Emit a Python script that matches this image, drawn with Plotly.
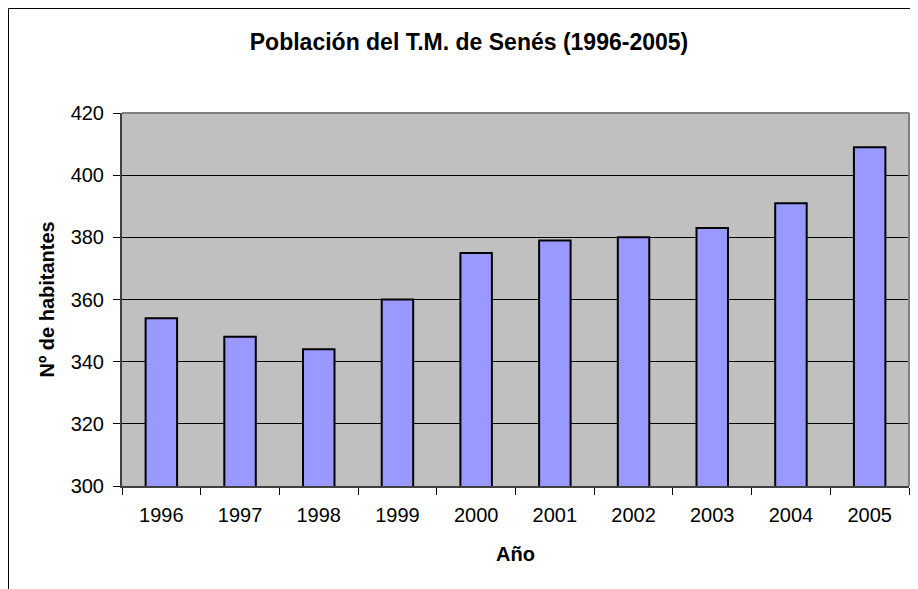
import plotly.graph_objects as go

years = ["1996", "1997", "1998", "1999", "2000", "2001", "2002", "2003", "2004", "2005"]
population = [354, 348, 344, 360, 375, 379, 380, 383, 391, 409]
y_ticks = [300, 320, 340, 360, 380, 400, 420]

# page has an 8px body margin, so the figure is drawn 8px smaller
W, H = 910, 581
L, R, T, B = 114, 9, 105, 103
pw = W - L - R
ph = H - T - B

FONT = "Liberation Sans, Arial, sans-serif"

fig = go.Figure()
fig.add_trace(go.Bar(
    x=years, y=population,
    marker=dict(color="#9999FF", line=dict(color="black", width=2)),
    width=0.4,
))

def px_x(p):
    return (p - L) / pw

def px_y(p):
    return (H - B - p) / ph

fig.update_layout(
    width=W, height=H,
    margin=dict(l=L, r=R, t=T, b=B),
    paper_bgcolor="white",
    plot_bgcolor="#C0C0C0",
    font=dict(family=FONT, size=20, color="black"),
    showlegend=False,
    title=dict(
        text="<b>Población del T.M. de Senés (1996-2005)</b>",
        x=461 / W, xanchor="center", xref="container",
        y=1 - 34 / H, yanchor="middle",
        font=dict(family=FONT, size=23, color="black"),
    ),
    xaxis=dict(
        type="category",
        tickson="boundaries",
        ticks="outside", ticklen=7, tickcolor="black", tickwidth=1,
        ticklabelstandoff=10,
        showline=True, linecolor="#404040", linewidth=2,
        showgrid=False,
        tickfont=dict(family=FONT, size=20),
    ),
    yaxis=dict(
        range=[300, 420],
        tickvals=y_ticks,
        ticks="outside", ticklen=7, tickcolor="black", tickwidth=1,
        ticklabelstandoff=5,
        showline=True, linecolor="#404040", linewidth=2,
        showgrid=True, gridcolor="black", gridwidth=1,
        tickfont=dict(family=FONT, size=20),
        zeroline=False,
    ),
    annotations=[
        dict(text="<b>Nº de habitantes</b>", xref="paper", yref="paper",
             x=px_x(38), y=0.5, xanchor="center", yanchor="middle",
             textangle=-90, showarrow=False, borderpad=0,
             font=dict(family=FONT, size=20, color="black")),
        dict(text="<b>Año</b>", xref="paper", yref="paper",
             x=px_x(507.5), y=px_y(546), xanchor="center", yanchor="middle",
             showarrow=False, borderpad=0,
             font=dict(family=FONT, size=20, color="black")),
    ],
    shapes=[
        # plot area border (top and right)
        dict(type="line", xref="paper", yref="paper", x0=0, x1=1, y0=1, y1=1,
             line=dict(color="#808080", width=2)),
        dict(type="line", xref="paper", yref="paper", x0=1, x1=1, y0=0, y1=1,
             line=dict(color="#808080", width=2)),
        # chart frame (left and top)
        dict(type="line", xref="paper", yref="paper",
             x0=px_x(0.5), x1=px_x(0.5), y0=px_y(0.5), y1=px_y(H + 5),
             line=dict(color="black", width=1)),
        dict(type="line", xref="paper", yref="paper",
             x0=px_x(0.5), x1=px_x(W + 5), y0=px_y(0.5), y1=px_y(0.5),
             line=dict(color="black", width=1)),
    ],
)

fig.write_html("out.html")
